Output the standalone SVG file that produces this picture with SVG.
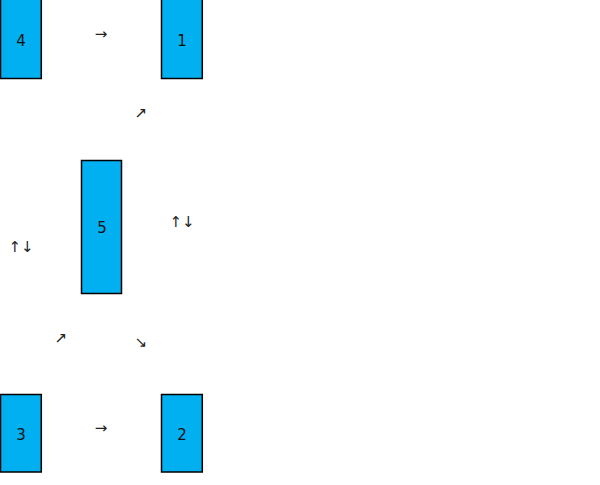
<svg xmlns="http://www.w3.org/2000/svg" width="600" height="485" viewBox="0 0 600 485">
<style>
.box{fill:#00b0f0;stroke:#000;stroke-width:1.5}
.lbl{font-family:"DejaVu Sans","Liberation Sans",sans-serif;font-size:15px;fill:#111;text-anchor:middle}
.arr{font-family:"DejaVu Sans","Liberation Sans",sans-serif;font-size:15px;fill:#222;text-anchor:middle}
</style>
<rect width="600" height="485" fill="#fff"/>
<g id="node4"><rect class="box" x="0.5" y="-1" width="40.8" height="79.5"/><text class="lbl" x="21" y="46">4</text></g>
<g id="node1"><rect class="box" x="161.5" y="-1" width="40.8" height="79.5"/><text class="lbl" x="182" y="46">1</text></g>
<g id="node5"><rect class="box" x="81.5" y="160.5" width="40" height="133"/><text class="lbl" x="102" y="233">5</text></g>
<g id="node3"><rect class="box" x="0.5" y="394.5" width="40.8" height="77.5"/><text class="lbl" x="21" y="440">3</text></g>
<g id="node2"><rect class="box" x="161.5" y="394.5" width="40.8" height="77.5"/><text class="lbl" x="182" y="440">2</text></g>
<g id="connectors">
<text class="arr" x="101" y="39">→</text>
<text class="arr" x="141" y="118">↗</text>
<text class="arr" x="21" y="252">↑↓</text>
<text class="arr" x="182" y="227">↑↓</text>
<text class="arr" x="61" y="343">↗</text>
<text class="arr" x="141" y="347">↘</text>
<text class="arr" x="101" y="433">→</text>
</g>
</svg>
